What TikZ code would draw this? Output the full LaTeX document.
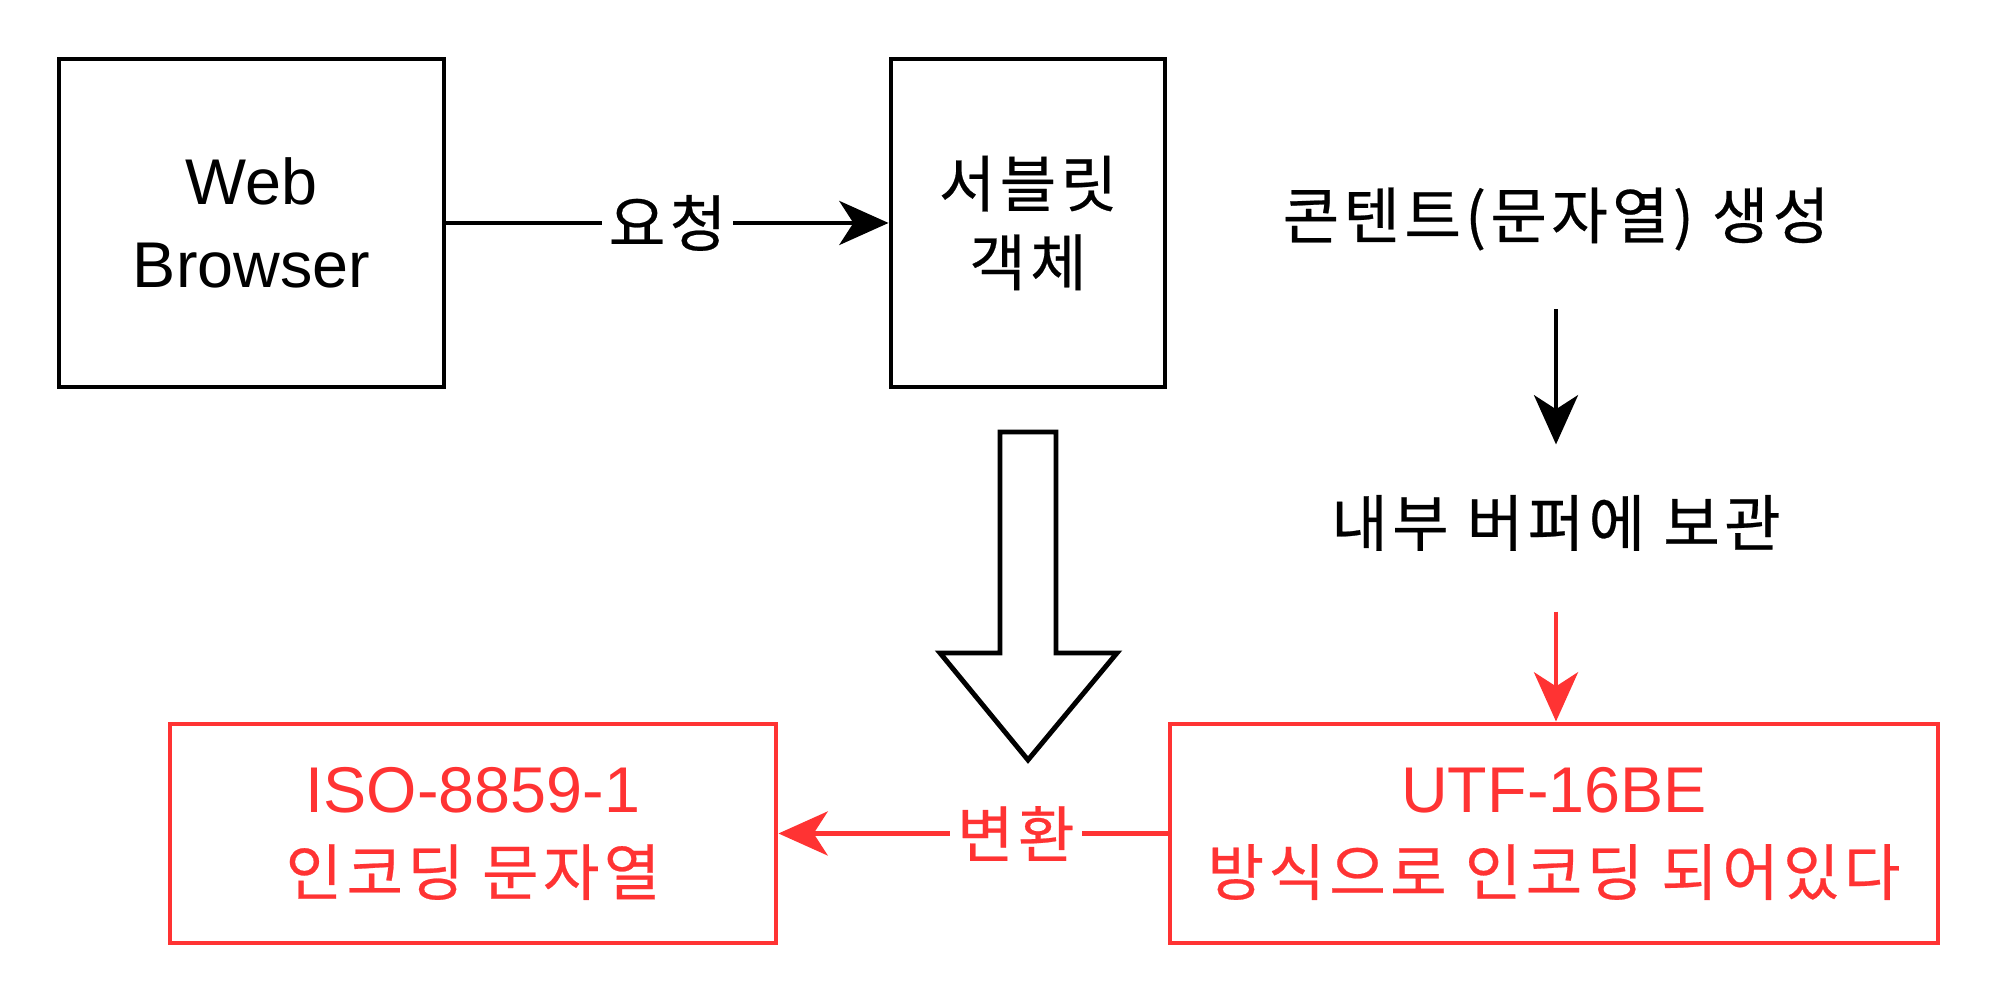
\documentclass[tikz,border=0pt]{standalone}
\usepackage{fontspec}
\setmainfont{Liberation Sans}
\newfontfamily\kr[WordSpace=1.0, LetterSpace=7, FakeBold=0.4]{Noto Sans CJK KR}
\usetikzlibrary{arrows.meta}
\definecolor{redline}{HTML}{FF3333}
\newcommand\latsize{\fontsize{18.4}{23.6}\selectfont}
\newcommand\krsize{\kr\fontsize{17.5}{22.4}\selectfont}
\begin{document}
\begin{tikzpicture}[box/.style={draw, line width=1.4pt, align=center, inner sep=0pt},
		redbox/.style={box, draw=redline, text=redline},
		txt/.style={inner sep=0pt, font=\krsize},
		link/.style={line width=1.4pt, -{Stealth[length=14pt, width=12.5pt, inset=4pt]}}]
		\useasboundingbox (0,0) rectangle (20,10.03);
		\node[box, minimum width=3.85cm, minimum height=3.28cm, font=\latsize] (Browser) at (2.515,7.80) {Web\\Browser};
		\node[box, minimum width=2.74cm, minimum height=3.28cm, font=\krsize] (Servlet) at (10.28,7.80) {서블릿\\객체};
		\node[txt] (Generate) at (15.56,7.84) {콘텐트(문자열) 생성};
		\node[txt] (Buffer) at (15.56,4.80) {내부 버퍼에 보관};
		\node[redbox, minimum width=7.68cm, minimum height=2.19cm, font=\latsize] (UTF) at (15.54,1.695) {UTF-16BE\\{\krsize 방식으로 인코딩 되어있다}};
		\node[redbox, minimum width=6.06cm, minimum height=2.19cm, font=\latsize] (ISO) at (4.73,1.695) {ISO-8859-1\\{\krsize 인코딩 문자열}};
		% Arrows
		\draw[link] (Browser) -- (Servlet) node[midway, fill=white, inner sep=2pt, font=\krsize] (Request) {요청};
		\draw[link, shorten <=0.58cm, shorten >=0.50cm] (Generate) -- (Buffer);
		\draw[link, redline, shorten <=0.60cm] (Buffer) -- (Buffer |- UTF.north);
		\draw[link, redline] (UTF.west) -- (ISO.east) node[pos=0.39, fill=white, inner sep=2pt, font=\krsize, text=redline] (Convert) {변환};
		% Big arrow
		\draw[line width=1.4pt, line join=miter] (10.00,5.71) -- (10.56,5.71) -- (10.56,3.50) -- (11.17,3.50) -- (10.28,2.43) -- (9.40,3.50) -- (10.00,3.50) -- cycle;
	\end{tikzpicture}
\end{document}
